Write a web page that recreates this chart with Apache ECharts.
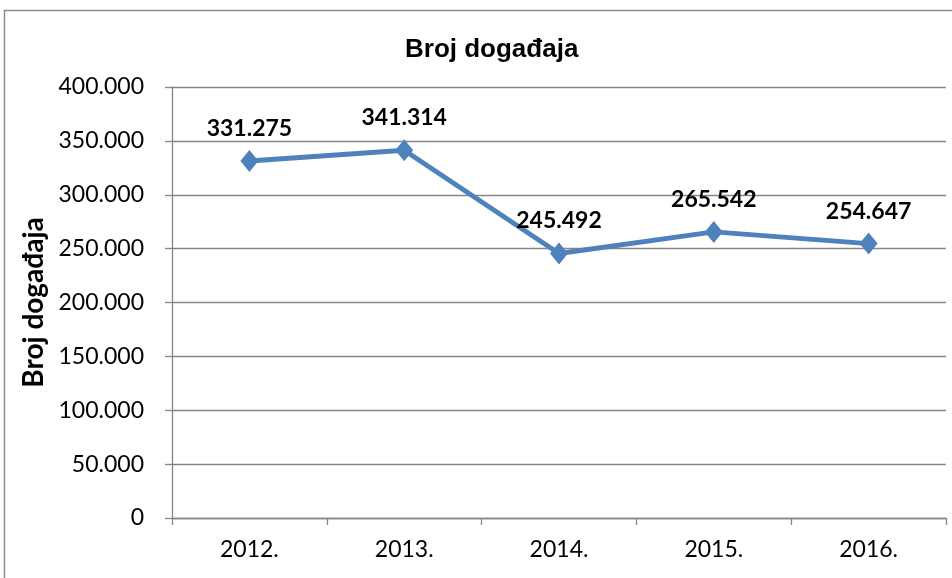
<!DOCTYPE html>
<html><head><meta charset="utf-8">
<script src="https://cdn.jsdelivr.net/npm/echarts@6/dist/echarts.min.js"></script>
<style>html,body{margin:0;padding:0;background:#fff}#c{width:952px;height:578px}</style>
</head><body><div id="c"></div>
<script>
const categories = ['2012.', '2013.', '2014.', '2015.', '2016.'];
const values = [331275, 341314, 245492, 265542, 254647];
const yTicks = [0, 50000, 100000, 150000, 200000, 250000, 300000, 350000, 400000];
const titleText = 'Broj događaja';
const yName = 'Broj događaja';

function fmt(v){ return String(v).replace(/\B(?=(\d{3})+(?!\d))/g, '.'); }

const chart = echarts.init(document.getElementById('c'));
chart.setOption({
  animation: false,
  backgroundColor: '#fff',
  graphic: [{type:'rect', shape:{x:4.5, y:10.5, width:980, height:620}, style:{fill:'none', stroke:'#8c8c8c', lineWidth:1.5}, silent:true}],
  title: {text: titleText, left: 400, top: 32, textStyle:{fontFamily:'Liberation Sans', fontWeight:'bold', fontSize:26, color:'#000'}},
  grid: {left:172, right:6, top:87, bottom:60, containLabel:false},
  xAxis: {type:'category', data:categories, boundaryGap:true,
    axisLine:{lineStyle:{color:'#868686', width:1.3}},
    axisTick:{show:true, length:7, lineStyle:{color:'#868686', width:1.3}},
    axisLabel:{fontFamily:'Lato', fontSize:23, color:'#000', margin:20}},
  yAxis: {type:'value', min:yTicks[0], max:yTicks[yTicks.length-1], interval:yTicks[1]-yTicks[0],
    name: yName, nameLocation:'middle', nameGap:117, nameRotate:90,
    nameTextStyle:{fontFamily:'Lato', fontWeight:'bold', fontSize:28, color:'#000'},
    axisLine:{show:true, lineStyle:{color:'#868686', width:1.3}},
    axisTick:{show:true, length:7, lineStyle:{color:'#868686', width:1.3}},
    splitLine:{lineStyle:{color:'#868686', width:1.3}},
    axisLabel:{fontFamily:'Lato', fontSize:23, color:'#000', margin:28, formatter: v => fmt(v)}},
  series: [{type:'line', data:values, symbol:'diamond', symbolSize:[18,22],
    lineStyle:{color:'#4F81BD', width:5}, itemStyle:{color:'#4F81BD'},
    label:{show:true, position:'top', distance:10, fontFamily:'Lato', fontWeight:'bold', fontSize:23, color:'#000', formatter: p => fmt(p.value)}}]
});
</script></body></html>
